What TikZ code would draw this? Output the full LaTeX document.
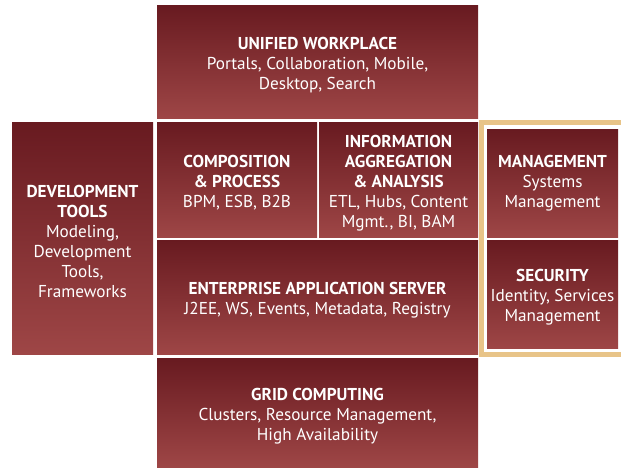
\documentclass[tikz,border=0pt]{standalone}
\usepackage{fontspec}
\setmainfont{PT Sans}
\definecolor{boxtop}{RGB}{104,26,32}
\definecolor{boxbottom}{RGB}{158,70,70}
\definecolor{goldframe}{RGB}{232,196,136}
\tikzset{
 layerbox/.style={rectangle, inner sep=0pt, top color=boxtop, bottom color=boxbottom,
  text=white, align=center, font=\fontsize{17.2}{20}\selectfont}
}
\newcommand{\hd}[1]{\textbf{#1}}
\newcommand{\hdfirst}[1]{\rule{0pt}{19pt}\textbf{#1}}

\begin{document}
\begin{tikzpicture}[x=1pt, y=-1pt]
\useasboundingbox (0,0) rectangle (621,467);

\node[layerbox, minimum width=321pt, minimum height=113pt] (uw) at (317.5,61.5)
 {\hdfirst{UNIFIED WORKPLACE}\\Portals, Collaboration, Mobile,\\Desktop, Search};
\node[layerbox, minimum width=141pt, minimum height=232pt] (dev) at (82.5,238)
 {\hdfirst{DEVELOPMENT}\\\hd{TOOLS}\\Modeling,\\Development\\Tools,\\Frameworks};
\node[layerbox, minimum width=160pt, minimum height=115pt] (comp) at (237,179.5)
 {\hdfirst{COMPOSITION}\\\hd{\& PROCESS}\\BPM, ESB, B2B};
\node[layerbox, minimum width=159pt, minimum height=115pt] (info) at (398.5,179.5)
 {\hdfirst{INFORMATION}\\\hd{AGGREGATION}\\\hd{\& ANALYSIS}\\ETL, Hubs, Content\\Mgmt., BI, BAM};
\node[layerbox, minimum width=321pt, minimum height=114pt] (eas) at (317.5,297)
 {\hdfirst{ENTERPRISE APPLICATION SERVER}\\J2EE, WS, Events, Metadata, Registry};
\node[layerbox, minimum width=321pt, minimum height=109pt] (grid) at (317.5,412.5)
 {\hdfirst{GRID COMPUTING}\\Clusters, Resource Management,\\High Availability};

\draw[goldframe, line width=5pt] (481,122.5) rectangle (628,354.5);
\node[layerbox, minimum width=131pt, minimum height=108pt] (mgmt) at (552.5,183)
 {\hd{MANAGEMENT}\\Systems\\Management};
\node[layerbox, minimum width=131pt, minimum height=108pt] (sec) at (552.5,294)
 {\hdfirst{SECURITY}\\Identity, Services\\Management};
\end{tikzpicture}
\end{document}
